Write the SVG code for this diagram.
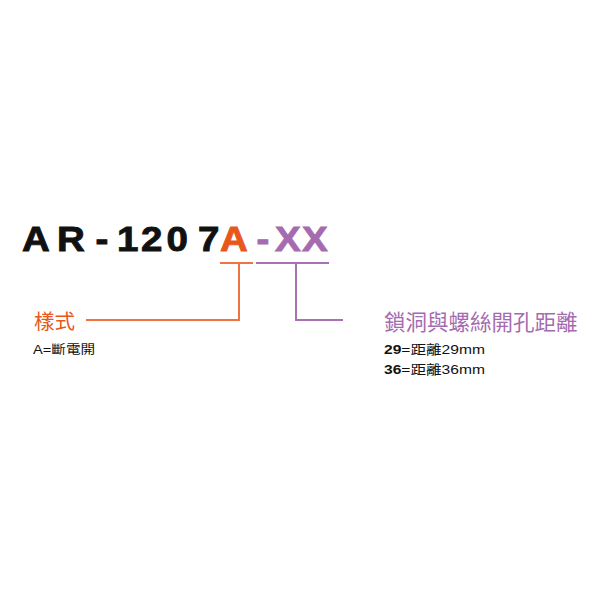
<svg xmlns="http://www.w3.org/2000/svg" width="600" height="600" viewBox="0 0 600 600">
<style>
.title{font-family:"Liberation Sans","Noto Sans CJK TC",sans-serif;font-weight:bold;font-size:35px;stroke-width:0.9}
.cjk{font-family:"Liberation Sans","Noto Sans CJK TC",sans-serif}
.or{stroke:#EF7440;stroke-width:2;fill:none}
.pu{stroke:#A971B3;stroke-width:2;fill:none}
</style>
<rect width="600" height="600" fill="#ffffff"/>
<g id="model">
<text class="title" y="251" transform="scale(1.1,1)"><tspan fill="#111111" stroke="#111111" x="20 51.8 86.8 106.4 128.2 151.4 180">AR-1207</tspan><tspan fill="#E8581C" stroke="#E8581C" x="200">A</tspan><tspan fill="#A56BAF" stroke="#A56BAF" x="233.2 250 274.5">-XX</tspan></text>
</g>
<g id="connectors">
<path class="or" d="M220 263H253M239 263V320H86"/>
<path class="pu" d="M256 263H329M296 263V320H343"/>
</g>
<g id="style-node">
<text class="cjk" x="34" y="329" font-size="20.5" fill="#E8581C">樣式</text>
<text class="cjk" font-size="12" fill="#111111" transform="translate(33,354) scale(1.22,1)">A=斷電開</text>
</g>
<g id="hole-node">
<text class="cjk" x="384" y="330" font-size="21.5" fill="#A56BAF">鎖洞與螺絲開孔距離</text>
<text class="cjk" font-size="13" fill="#111111" transform="translate(384,353.5) scale(1.2,1)"><tspan font-weight="bold">29</tspan>=距離29mm</text>
<text class="cjk" font-size="13" fill="#111111" transform="translate(384,374) scale(1.2,1)"><tspan font-weight="bold">36</tspan>=距離36mm</text>
</g>
</svg>
